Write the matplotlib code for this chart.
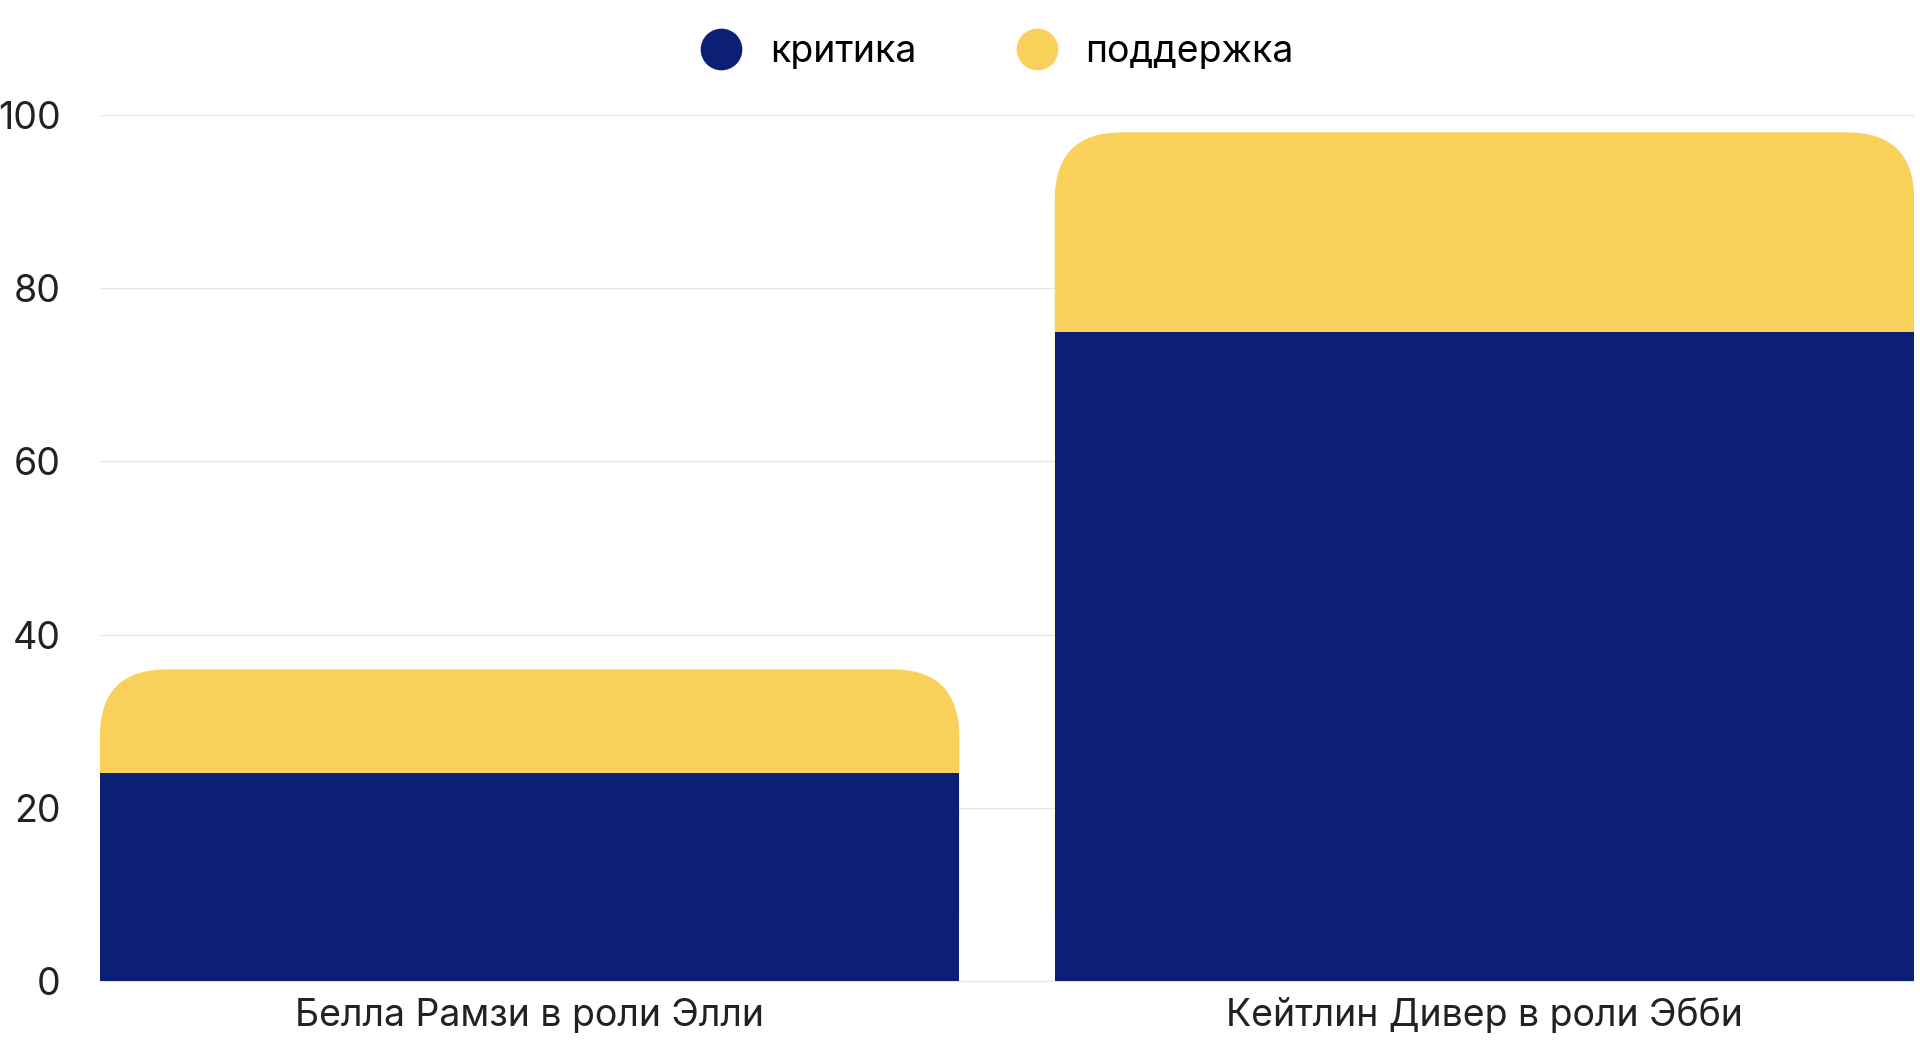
import matplotlib
matplotlib.use("Agg")
import matplotlib.pyplot as plt
from matplotlib.patches import FancyBboxPatch
from matplotlib.lines import Line2D

categories = ["Белла Рамзи в роли Элли", "Кейтлин Дивер в роли Эбби"]
critique = [24, 75]
support = [12, 23]
series_names = ["критика", "поддержка"]
colors = ["#0b1f74", "#f9d05a"]

plt.rcParams['font.family'] = ['Inter', 'DejaVu Sans']
fig = plt.figure(figsize=(19.2, 10.46), dpi=100)
ax = fig.add_axes([0.052, 0.062, 0.945, 0.828])
w = 0.9
ax.set_xlim(-0.45, 1.45)
ax.set_ylim(0, 100)
for i, (c, s) in enumerate(zip(critique, support)):
    total = c + s
    p = FancyBboxPatch((i - w/2, 0), w, total,
                       boxstyle="round,pad=0,rounding_size=0.07",
                       mutation_aspect=111, fc=colors[1], ec='none', zorder=2)
    ax.add_patch(p)
    ax.bar(i, c, width=w, color=colors[0], zorder=3)
ax.set_yticks([0, 20, 40, 60, 80, 100])
ax.set_xticks(range(len(categories)))
ax.set_xticklabels(categories)
ax.tick_params(axis='both', length=0, labelsize=27, colors='#222222')
ax.tick_params(axis='y', pad=28)
ax.tick_params(axis='x', pad=12)
ax.grid(axis='y', color='#e6e6e6', lw=1, zorder=0)
for sp in ['top', 'right', 'left']:
    ax.spines[sp].set_visible(False)
ax.spines['bottom'].set_color('#e6e6e6')
handles = [Line2D([], [], marker='o', ls='none', ms=30, mfc=col, mec='none') for col in colors]
fig.legend(handles, series_names, loc='upper center', bbox_to_anchor=(0.515, 1.0),
           ncol=2, frameon=False, fontsize=27, handletextpad=0.3, columnspacing=2.2)
fig.savefig("out.png", dpi=100)
